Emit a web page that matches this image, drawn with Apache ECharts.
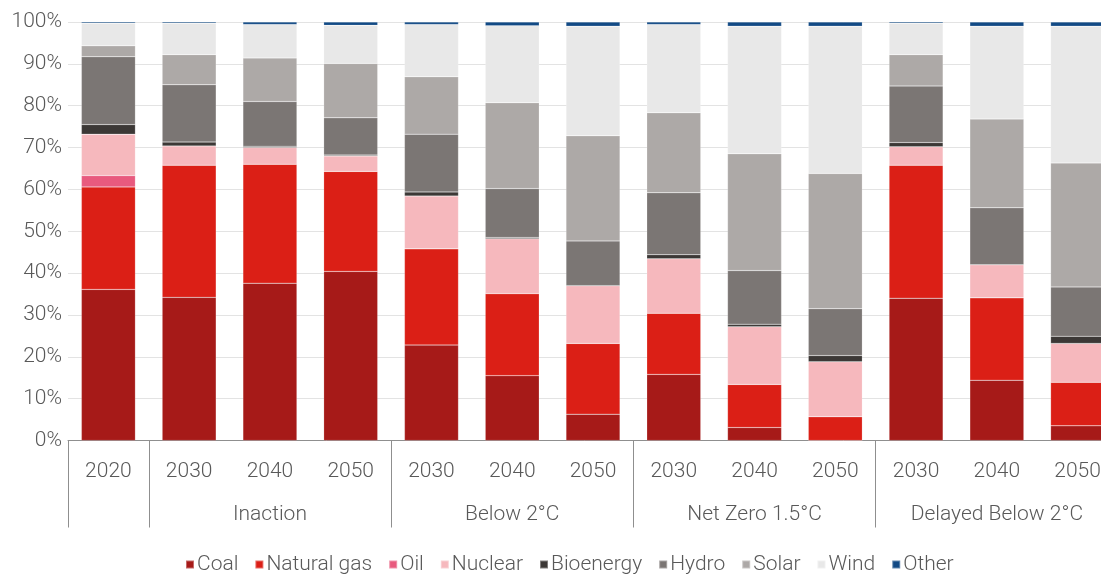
<!DOCTYPE html>
<html>
<head>
<meta charset="utf-8">
<script src="https://cdn.jsdelivr.net/npm/echarts@6/dist/echarts.min.js"></script>
<style>
html,body{margin:0;padding:0;background:#fff;}
#chart{width:1101px;height:575px;}
</style>
</head>
<body>
<div id="chart"></div>
<script>
// Categories
const years = ['2020','2030','2040','2050','2030','2040','2050','2030','2040','2050','2030','2040','2050'];
const groupNames = ['', 'Inaction', 'Below 2°C', 'Net Zero 1.5°C', 'Delayed Below 2°C'];
const groupSizes = [1, 3, 3, 3, 3];
const yTicks = [0,10,20,30,40,50,60,70,80,90,100];

// Series values (% share)
const coal      = [36.1, 34.2, 37.6, 40.4, 22.8, 15.5,  6.3, 15.8,  3.1,  0.0, 34.0, 14.4,  3.5];
const gas       = [24.5, 31.6, 28.4, 23.9, 23.0, 19.6, 16.9, 14.6, 10.3,  5.7, 31.8, 19.7, 10.4];
const oil       = [ 2.7,  0.0,  0.0,  0.0,  0.0,  0.0,  0.0,  0.0,  0.0,  0.0,  0.0,  0.0,  0.0];
const nuclear   = [ 9.9,  4.6,  4.0,  3.7, 12.6, 13.1, 13.8, 13.0, 13.8, 13.1,  4.4,  7.9,  9.3];
const bioenergy = [ 2.3,  0.9,  0.3,  0.2,  1.0,  0.3,  0.0,  1.0,  0.6,  1.5,  1.0,  0.0,  1.7];
const hydro     = [16.2, 13.7, 10.7,  8.9, 13.8, 11.7, 10.7, 14.8, 12.8, 11.2, 13.5, 13.6, 11.8];
const solar     = [ 2.6,  7.2, 10.4, 13.0, 13.7, 20.5, 25.1, 19.1, 27.9, 32.3,  7.5, 21.2, 29.6];
const wind      = [ 5.4,  7.5,  8.0,  9.1, 12.5, 18.4, 26.2, 21.1, 30.5, 35.2,  7.5, 22.2, 32.7];
const other     = [ 0.3,  0.3,  0.6,  0.8,  0.6,  0.9,  1.0,  0.6,  1.0,  1.0,  0.3,  1.0,  1.0];

const seriesNames = ['Coal','Natural gas','Oil','Nuclear','Bioenergy','Hydro','Solar','Wind','Other'];
const seriesData = [coal, gas, oil, nuclear, bioenergy, hydro, solar, wind, other];
const colors = ['#A61A18','#DB1F16','#E85A7E','#F6B8BD','#3C3836','#7B7674','#ADA9A7','#E8E8E8','#124A85'];

// Build group axis labels & separator positions
const groupLabels = [];
const groupStarts = [];
let idx = 0;
groupSizes.forEach((n, g) => {
  groupStarts.push(idx);
  for (let i = 0; i < n; i++) groupLabels.push(i === Math.floor((n - 1) / 2) ? groupNames[g] : '');
  idx += n;
});

const font = 'Roboto';
const textColor = '#595959';

const chart = echarts.init(document.getElementById('chart'), null, {renderer: 'canvas'});
chart.setOption({
  animation: false,
  backgroundColor: '#ffffff',
  color: colors,
  grid: {left: 68, top: 22, width: 1050, bottom: 134.5, containLabel: false, outerBoundsMode: 'none'},
  legend: {
    data: seriesNames,
    left: 180, top: 549,
    itemWidth: 8, itemHeight: 8, itemGap: 16,
    icon: 'rect',
    textStyle: {fontFamily: font, fontWeight: 300, fontSize: 21, color: textColor, padding: [0,0,0,-2]}
  },
  xAxis: [
    {
      type: 'category', data: years, position: 'bottom',
      axisLine: {show: true, lineStyle: {color: '#8f8f8f', width: 1}},
      axisTick: {show: false},
      axisLabel: {interval: 0, margin: 20.5, fontFamily: font, fontWeight: 300, fontSize: 21, color: textColor}
    },
    {
      type: 'category', data: groupLabels, position: 'bottom', gridIndex: 0,
      axisLine: {show: false},
      axisTick: {show: true, length: 87, lineStyle: {color: '#8f8f8f', width: 1},
        interval: function (i) { return groupStarts.indexOf(i) >= 0; }},
      axisLabel: {interval: 0, margin: 63.5, fontFamily: font, fontWeight: 300, fontSize: 21, color: textColor}
    }
  ],
  yAxis: {
    type: 'value', min: 0, max: 100, interval: 10,
    axisLine: {show: false}, axisTick: {show: false},
    splitLine: {lineStyle: {color: '#e3e3e3', width: 1}},
    axisLabel: {margin: 6, formatter: v => yTicks.indexOf(v) >= 0 ? v + '%' : '', fontFamily: font, fontWeight: 300, fontSize: 21, color: textColor}
  },
  series: seriesNames.map((name, i) => ({
    name: name, type: 'bar', stack: 'total', barWidth: 54,
    data: seriesData[i],
    itemStyle: {color: colors[i], borderColor: 'rgba(255,255,255,0.35)', borderWidth: 0.5}
  }))
});
</script>
</body>
</html>
